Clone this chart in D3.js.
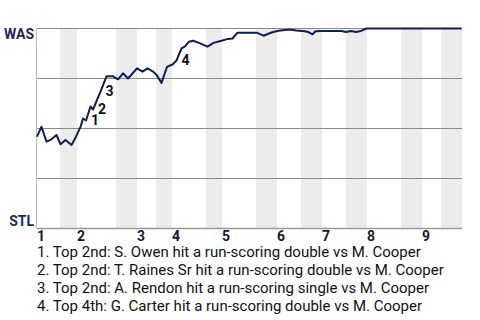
<!DOCTYPE html>
<html>
<head>
<meta charset="utf-8">
<script src="https://cdn.jsdelivr.net/npm/d3@7"></script>
<style>
  body { margin: 0; background: #fff; }
  svg { display: block; font-family: Roboto, "Liberation Sans", sans-serif; }
</style>
</head>
<body>
<div id="chart-area"></div>
<script>
// play index (x) and Washington win probability % (y)
const playIndex = [0, 0.9, 1.9, 2.7, 3.9, 4.7, 5.7, 6.9, 7.7, 8.7, 9.2, 9.8, 10.7, 11.2, 12.7,
    13.9, 15.2, 16.2, 17.2, 18.2, 20, 21.1, 22.1, 23.3, 23.9, 24.9, 26, 27.1, 27.9, 28.9,
    29.6, 30.4, 31.2, 32.4, 34.1, 35.3, 36.9, 38.2, 39.1, 40.1, 43.9, 45.3, 46.9, 48.3,
    50.5, 51.9, 53.6, 54.2, 55.1, 55.7, 56.9, 60.9, 61.8, 62.8, 63.8, 64.8, 65.9, 84.9];
const wasWinPct = [45.9, 50.9, 43.4, 44.3, 46.8, 42.1, 44.3, 41.8, 45.4, 50.8, 55, 54, 61, 59.5, 68.4,
    76.1, 76.1, 74.6, 77.6, 75, 80.1, 78.4, 80.1, 78.3, 76.8, 72.8, 80.8, 82, 84, 90.1,
    91.1, 93.4, 93.9, 92.8, 90.9, 92.8, 93.9, 94.8, 95, 97.9, 97.9, 96.4, 98, 98.9,
    99.5, 99, 98.6, 98.3, 97.1, 98.6, 98.8, 98.8, 98.3, 98.8, 98.3, 98.8, 100, 100];

const totalPlays = 85;
const innings = ["1", "2", "3", "4", "5", "6", "7", "8", "9"];
const topStarts = [0, 8, 20, 27, 37, 48, 57, 66, 77];
const bottomStarts = [4.6, 15.8, 23.8, 33.8, 43.8, 52.8, 61.8, 72.8, 80.8];
const gridValues = [0, 25, 50, 75, 100];

// numbered scoring plays: which point of the series each one marks
const noteNumbers = [1, 2, 3, 4];
const notePoints = [11, 13, 14, 28];
const noteTexts = [
    "Top 2nd: S. Owen hit a run-scoring double vs M. Cooper",
    "Top 2nd: T. Raines Sr hit a run-scoring double vs M. Cooper",
    "Top 2nd: A. Rendon hit a run-scoring single vs M. Cooper",
    "Top 4th: G. Carter hit a run-scoring double vs M. Cooper"
];

const width = 480, height = 320;
const plot = {left: 37, right: 462, top: 28.5, bottom: 228.5};

const svg = d3.select("#chart-area")
    .append("svg")
    .attr("width", width)
    .attr("height", height);

const xScale = d3.scaleLinear()
    .domain([0, totalPlays])
    .range([plot.left, plot.right]);

const yScale = d3.scaleLinear()
    .domain([0, 100])
    .range([plot.bottom, plot.top]);

// bottom-half bands
svg.append("g")
    .selectAll("rect")
    .data(bottomStarts)
    .enter()
    .append("rect")
    .attr("x", d => xScale(d))
    .attr("y", plot.top)
    .attr("width", (d, i) => xScale(i + 1 < topStarts.length ? topStarts[i + 1] : totalPlays) - xScale(d))
    .attr("height", plot.bottom - plot.top)
    .attr("fill", "#ececec");

// horizontal grid lines
svg.append("g")
    .selectAll("line")
    .data(gridValues)
    .enter()
    .append("line")
    .attr("x1", plot.left)
    .attr("x2", plot.right)
    .attr("y1", d => yScale(d))
    .attr("y2", d => yScale(d))
    .attr("stroke", d => d === 0 ? "#999" : "#8a8a8a")
    .attr("stroke-width", d => d === 0 ? 1.5 : 1.2);

// left axis line
svg.append("line")
    .attr("x1", plot.left - 0.5)
    .attr("x2", plot.left - 0.5)
    .attr("y1", plot.top)
    .attr("y2", plot.bottom)
    .attr("stroke", "#bbb")
    .attr("stroke-width", 1);

// team labels
svg.append("text")
    .attr("x", 34)
    .attr("y", yScale(100) + 10)
    .attr("text-anchor", "end")
    .attr("fill", "#1b2a58")
    .style("font-size", "14px")
    .style("font-weight", "bold")
    .text("WAS");

svg.append("text")
    .attr("x", 34)
    .attr("y", yScale(0) - 3)
    .attr("text-anchor", "end")
    .attr("fill", "#1b2a58")
    .style("font-size", "14px")
    .style("font-weight", "bold")
    .text("STL");

// inning numbers
svg.append("g")
    .selectAll("text")
    .data(innings)
    .enter()
    .append("text")
    .attr("x", (d, i) => xScale(topStarts[i]))
    .attr("y", 241)
    .attr("fill", "#1a1a2e")
    .style("font-size", "14px")
    .style("font-weight", "bold")
    .text(d => d);

// win probability line
const points = playIndex.map((p, i) => [p, wasWinPct[i]]);
const line = d3.line()
    .x(d => xScale(d[0]))
    .y(d => yScale(d[1]));

svg.append("path")
    .datum(points)
    .attr("d", line)
    .attr("fill", "none")
    .attr("stroke", "#0e1f50")
    .attr("stroke-width", 2)
    .attr("stroke-linejoin", "round");

// numbered markers on the line
svg.append("g")
    .selectAll("text")
    .data(noteNumbers)
    .enter()
    .append("text")
    .attr("x", (d, i) => xScale(playIndex[notePoints[i]]) + 9)
    .attr("y", (d, i) => yScale(wasWinPct[notePoints[i]]) - 1)
    .attr("text-anchor", "middle")
    .attr("dominant-baseline", "central")
    .attr("fill", "#111")
    .style("font-size", "14px")
    .style("font-weight", "bold")
    .text(d => d);

// notes below the chart
svg.append("g")
    .selectAll("text")
    .data(noteTexts)
    .enter()
    .append("text")
    .attr("x", 37)
    .attr("y", (d, i) => 257 + i * 18)
    .attr("fill", "#111")
    .style("font-size", "15px")
    .text((d, i) => `${noteNumbers[i]}. ${d}`);
</script>
</body>
</html>
